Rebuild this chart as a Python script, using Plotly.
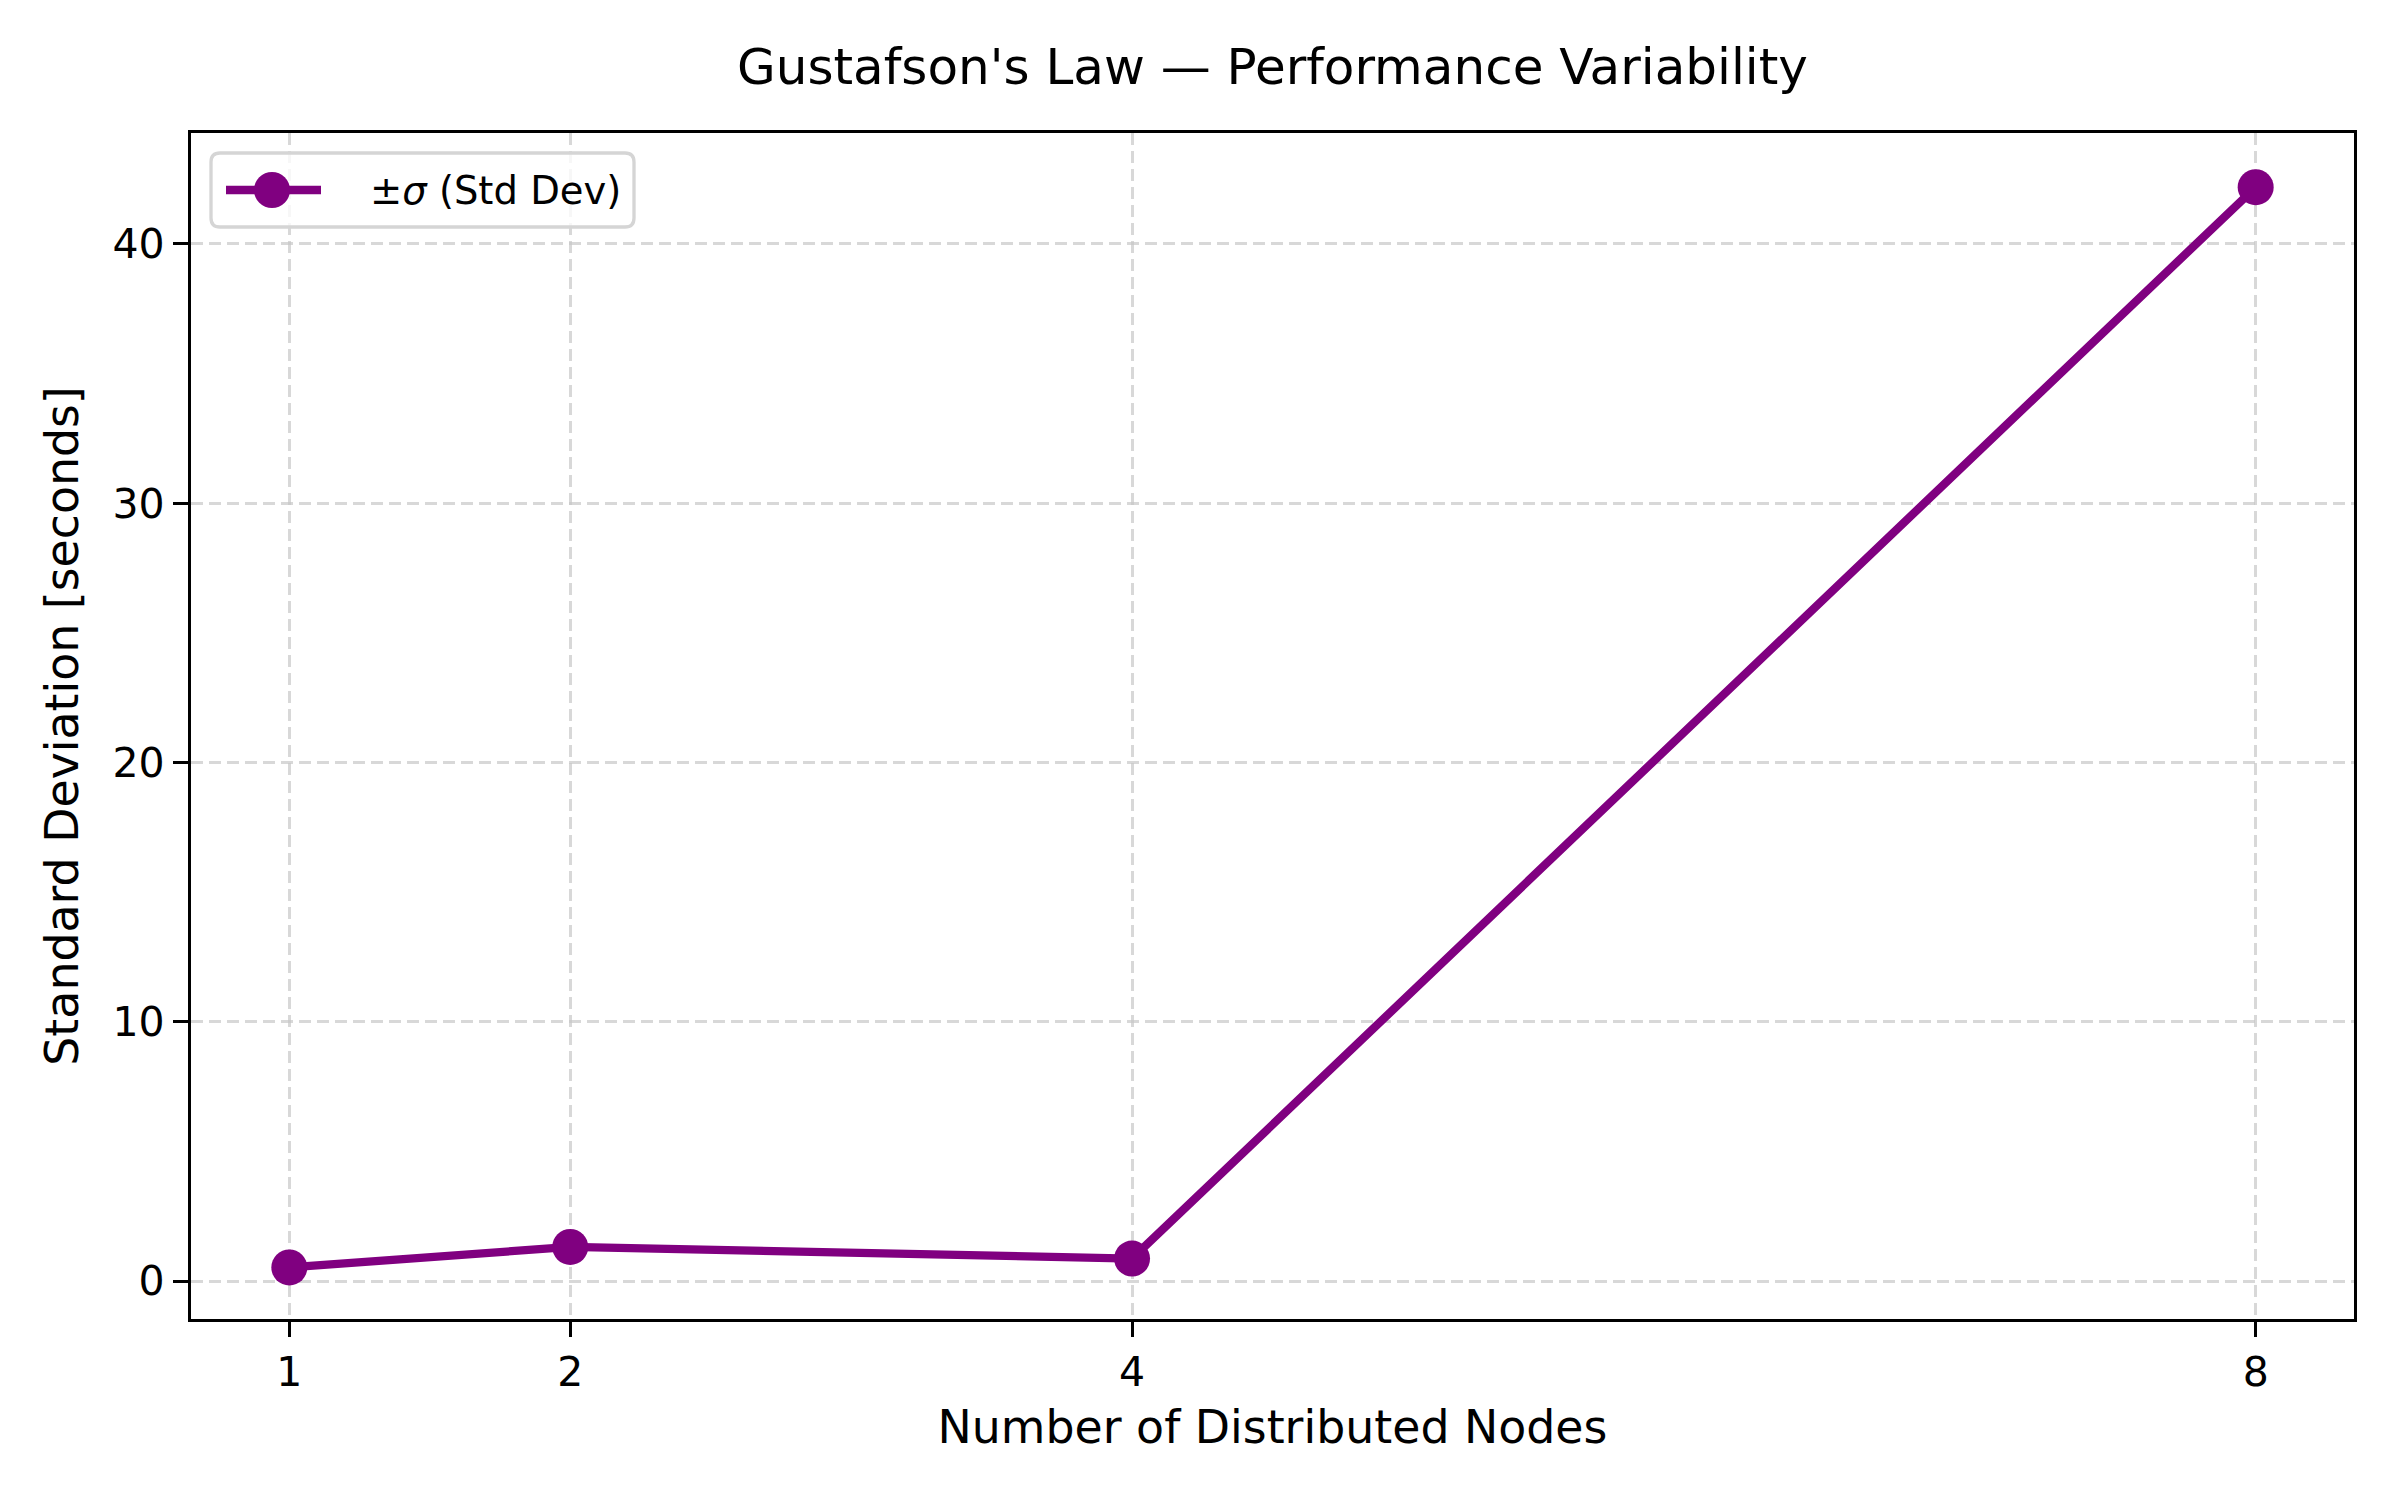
import plotly.graph_objects as go

nodes = [1, 2, 4, 8]
std_dev = [0.53, 1.32, 0.87, 42.19]
x_ticks = [1, 2, 4, 8]
y_ticks = [0, 10, 20, 30, 40]
legend_label = "±<i>σ</i> (Std Dev)"

FONT = "DejaVu Sans"
purple = "#800080"

W, H = 2400, 1500
ML, MR, MT, MB = 191, 46, 133, 181
PW, PH = W - ML - MR, H - MT - MB


def px_x(p):
    return (p - ML) / PW


def px_y(p):
    return (H - MB - p) / PH


fig = go.Figure()
fig.add_trace(go.Scatter(
    x=nodes, y=std_dev, mode="lines+markers",
    name=legend_label, showlegend=False,
    line=dict(color=purple, width=8.3),
    marker=dict(color=purple, size=36),
))

grid = dict(showgrid=True, gridcolor="rgba(200,200,200,0.7)", gridwidth=3, griddash="12px,6px")
axis_common = dict(showline=True, linecolor="black", linewidth=3.3, mirror=True,
                   ticks="outside", ticklen=15, tickwidth=3.3, tickcolor="black",
                   zeroline=False, tickfont=dict(family=FONT, size=41, color="black"))

# legend box (matplotlib-style, drawn as decoration in paper coords)
bx0, bx1, by0, by1 = px_x(211), px_x(634), px_y(227), px_y(153)
rx, ry = 9 / PW, 9 / PH
box_path = (f"M {bx0+rx},{by1} L {bx1-rx},{by1} Q {bx1},{by1} {bx1},{by1-ry} "
            f"L {bx1},{by0+ry} Q {bx1},{by0} {bx1-rx},{by0} L {bx0+rx},{by0} "
            f"Q {bx0},{by0} {bx0},{by0+ry} L {bx0},{by1-ry} Q {bx0},{by1} {bx0+rx},{by1} Z")
ly = px_y(190)
mcx = px_x(272)
mr_x, mr_y = 18 / PW, 18 / PH
shapes = [
    dict(type="path", path=box_path, xref="paper", yref="paper",
         fillcolor="rgba(255,255,255,0.8)", line=dict(color="#d5d5d5", width=3.3), layer="above"),
    dict(type="line", xref="paper", yref="paper", x0=px_x(226), x1=px_x(321), y0=ly, y1=ly,
         line=dict(color=purple, width=8.3), layer="above"),
    dict(type="circle", xref="paper", yref="paper", x0=mcx - mr_x, x1=mcx + mr_x,
         y0=ly - mr_y, y1=ly + mr_y, fillcolor=purple, line=dict(color=purple, width=0), layer="above"),
]
annotations = [
    dict(text=legend_label, xref="paper", yref="paper", x=px_x(368), y=ly,
         xanchor="left", yanchor="middle", showarrow=False,
         font=dict(family=FONT, size=38.5, color="black")),
]

fig.update_layout(
    width=W, height=H,
    paper_bgcolor="white", plot_bgcolor="white",
    margin=dict(l=ML, r=MR, t=MT, b=MB),
    title=dict(text="Gustafson's Law — Performance Variability", x=0.5, xref="paper",
               y=1 - 66 / 1500, yref="container", xanchor="center", yanchor="middle",
               font=dict(family=FONT, size=50, color="black")),
    xaxis=dict(range=[0.65, 8.35], tickvals=x_ticks, ticktext=[str(v) for v in x_ticks],
               title=dict(text="Number of Distributed Nodes", standoff=16,
                          font=dict(family=FONT, size=45.8, color="black")),
               **grid, **axis_common),
    yaxis=dict(range=[-1.46, 44.28], tickvals=y_ticks, ticktext=[str(v) for v in y_ticks],
               title=dict(text="Standard Deviation [seconds]", standoff=20,
                          font=dict(family=FONT, size=45.8, color="black")),
               **grid, **axis_common),
    shapes=shapes,
    annotations=annotations,
    showlegend=False,
)

fig.write_html("out.html")
